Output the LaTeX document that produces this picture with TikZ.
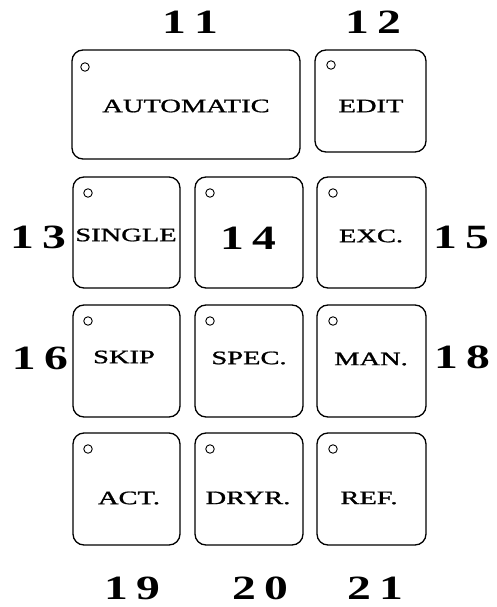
\documentclass[tikz,border=0pt]{standalone}
\usepackage{fontspec}
\usepackage{graphicx}
\setmainfont{Liberation Serif}
\newfontfamily\keyfont[FakeBold=1]{Liberation Serif}
\newcommand{\dg}[2]{\scalebox{1.4}[1]{\fontsize{34}{34}\selectfont\bfseries #1\hspace{6pt}#2}}
\newcommand{\kt}[1]{\scalebox{1.5}[1]{\fontsize{19}{19}\keyfont #1}}
\begin{document}
\begin{tikzpicture}[x=1pt,y=-1pt,
  keybox/.style={draw=black,line width=1.3pt,rounded corners=11pt},
  led/.style={draw=black,line width=0.9pt,circle,inner sep=0pt,minimum size=8.5pt},
  keytext/.style={inner sep=0pt,anchor=center},
  numlabel/.style={inner sep=0pt,anchor=center}]
\useasboundingbox (0,0) rectangle (497,607);
% boxes
\draw[keybox] (72,50) rectangle (300,159);
\draw[keybox] (315,50) rectangle (426,152);
\foreach \r/\ya/\yb in {2/177/288,3/305/417,4/433/545}{
  \draw[keybox] (73,\ya) rectangle (180,\yb);
  \draw[keybox] (195,\ya) rectangle (303,\yb);
  \draw[keybox] (317,\ya) rectangle (426,\yb);
}
% leds
\node[led] (l11) at (85,67) {};
\node[led] (l12) at (331,65) {};
\foreach \ya [count=\i] in {177,305,433}{
  \node[led] (la\i) at (88,\ya+16) {};
  \node[led] (lb\i) at (210,\ya+16) {};
  \node[led] (lc\i) at (333,\ya+16) {};
}
% key texts
\node[keytext] (tauto) at (186,106) {\kt{AUTOMATIC}};
\node[keytext] (tedit) at (371,106) {\kt{EDIT}};
\node[keytext] (tsingle) at (126,235) {\kt{SINGLE}};
\node[keytext] (texc) at (371,236) {\kt{EXC.}};
\node[keytext] (tskip) at (124,357) {\kt{SKIP}};
\node[keytext] (tspec) at (249,358) {\kt{SPEC.}};
\node[keytext] (tman) at (371,359) {\kt{MAN.}};
\node[keytext] (tact) at (129,498) {\kt{ACT.}};
\node[keytext] (tdryr) at (248,498) {\kt{DRYR.}};
\node[keytext] (tref) at (369,498) {\kt{REF.}};
% numbers
\node[numlabel] (n11) at (190,22) {\dg{1}{1}};
\node[numlabel] (n12) at (373,22) {\dg{1}{2}};
\node[numlabel] (n13) at (38,237) {\dg{1}{3}};
\node[numlabel] (n14) at (248,238) {\dg{1}{4}};
\node[numlabel] (n15) at (461,237) {\dg{1}{5}};
\node[numlabel] (n16) at (40,358) {\dg{1}{6}};
\node[numlabel] (n18) at (462,357) {\dg{1}{8}};
\node[numlabel] (n19) at (132,588) {\dg{1}{9}};
\node[numlabel] (n20) at (260,588) {\dg{2}{0}};
\node[numlabel] (n21) at (375,588) {\dg{2}{1}};
\end{tikzpicture}
\end{document}
